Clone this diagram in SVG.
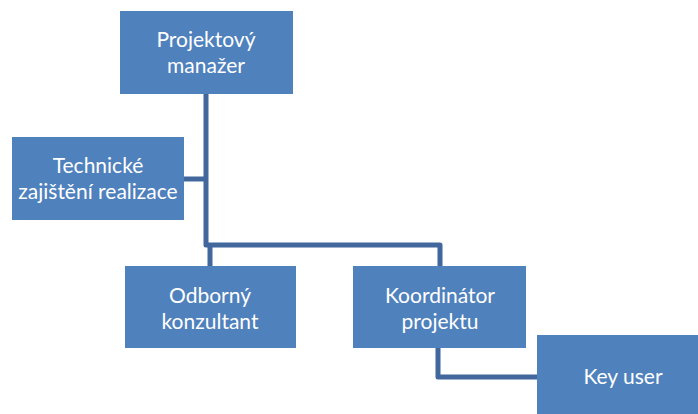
<svg xmlns="http://www.w3.org/2000/svg" width="698" height="414" viewBox="0 0 698 414">
<style>
.box{fill:#4F81BD;}
.t{font-family:Lato,"Open Sans",sans-serif;font-size:21px;fill:#fff;text-anchor:middle;}
.c{fill:none;stroke:#41679C;stroke-width:5;stroke-linejoin:round;}
</style>
<rect width="698" height="414" fill="#fff"/>
<g id="connectors">
<path class="c" d="M206 94 V245 H440 V266"/>
<path class="c" d="M184 179 H206"/>
<path class="c" d="M210 245 V266"/>
<path class="c" d="M438 348 V377 H537"/>
</g>
<g id="pm"><rect class="box" x="120" y="11" width="173" height="83"/>
<text class="t" x="206" y="47">Projektový</text><text class="t" x="206" y="73">manažer</text></g>
<g id="tech"><rect class="box" x="12" y="137" width="172" height="83"/>
<text class="t" x="98" y="173">Technické</text><text class="t" x="98" y="199">zajištění realizace</text></g>
<g id="odb"><rect class="box" x="125" y="266" width="171" height="82"/>
<text class="t" x="210" y="303">Odborný</text><text class="t" x="210" y="329">konzultant</text></g>
<g id="koord"><rect class="box" x="353" y="266" width="173" height="82"/>
<text class="t" x="440" y="303">Koordinátor</text><text class="t" x="440" y="329">projektu</text></g>
<g id="key"><rect class="box" x="537" y="335" width="161" height="79"/>
<text class="t" x="623" y="384">Key user</text></g>
</svg>
